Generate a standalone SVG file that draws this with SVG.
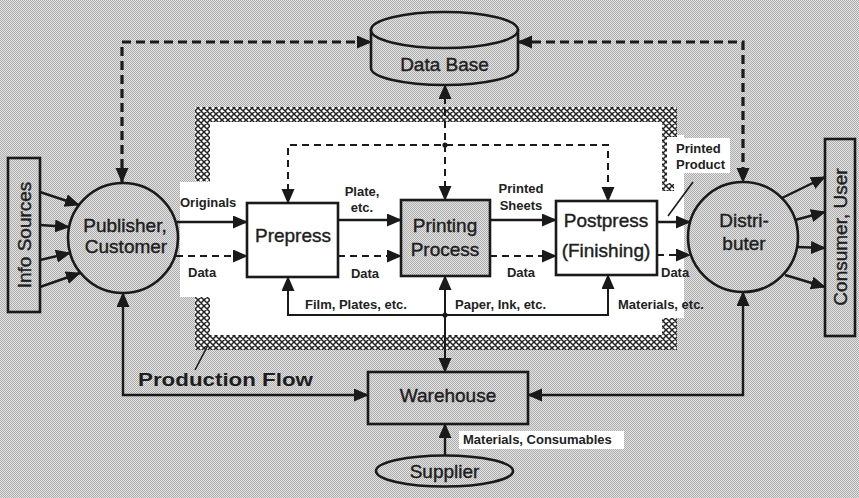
<svg xmlns="http://www.w3.org/2000/svg" width="859" height="498" viewBox="0 0 859 498">
  <defs>
    <!-- halftone grey fill -->
    <pattern id="dots" width="2" height="2" patternUnits="userSpaceOnUse">
      <rect width="2" height="2" fill="#e4e4e4"/>
      <rect width="1" height="1" fill="#acacac"/>
      <rect x="1" y="1" width="1" height="1" fill="#acacac"/>
    </pattern>
    <!-- cross-hatch used for the production-flow border -->
    <pattern id="hatch" width="6" height="6" patternUnits="userSpaceOnUse">
      <rect width="6" height="6" fill="#fff"/>
      <path d="M0,0 L6,6 M6,0 L0,6 M-1,5 L1,7 M5,-1 L7,1 M-1,1 L1,-1 M5,7 L7,5" stroke="#222" stroke-width="1.5"/>
    </pattern>
    <marker id="ah" markerUnits="userSpaceOnUse" markerWidth="16" markerHeight="14" refX="14" refY="6.5" orient="auto-start-reverse">
      <path d="M0,0 L15,6.5 L0,13 Z" fill="#1a1a1a"/>
    </marker>
    <style>
      .lbl { font-family: "Liberation Sans", Arial, sans-serif; font-size: 19px; fill: #1e1e1e; stroke: #1e1e1e; stroke-width: 0.4; text-anchor: middle; }
      .sm { font-family: "Liberation Sans", Arial, sans-serif; font-size: 13px; font-weight: bold; fill: #222; }
      .node { stroke: #1a1a1a; stroke-width: 2.6; }
      .solid { fill: none; stroke: #1a1a1a; stroke-width: 2.4; }
      .thin { fill: none; stroke: #1a1a1a; stroke-width: 2; }
      .dashO { fill: none; stroke: #1a1a1a; stroke-width: 3.2; stroke-dasharray: 9 5; }
      .dashI { fill: none; stroke: #1a1a1a; stroke-width: 2; stroke-dasharray: 7 5; }
      .arr { marker-end: url(#ah); }
      .arr2 { marker-start: url(#ah); marker-end: url(#ah); }
    </style>
  </defs>

  <!-- background -->
  <rect width="859" height="498" fill="url(#dots)"/>

  <!-- production flow area -->
  <g id="production-flow">
    <path d="M210,122 H662 V135 H684 V318 H662 V335 H210 V297 H180 V182 H210 Z" fill="#fff"/>
    <rect x="195" y="107" width="482" height="15" fill="url(#hatch)"/>
    <rect x="195" y="107" width="15" height="74" fill="url(#hatch)"/>
    <rect x="195" y="297" width="15" height="53" fill="url(#hatch)"/>
    <rect x="195" y="335" width="482" height="15" fill="url(#hatch)"/>
    <rect x="662" y="107" width="15" height="30" fill="url(#hatch)"/>
    <rect x="662" y="137" width="5" height="46" fill="url(#hatch)"/>
    <rect x="662" y="183" width="12" height="8" fill="url(#hatch)"/>
    <rect x="662" y="318" width="15" height="32" fill="url(#hatch)"/>
    <text x="138" y="386" font-family="Liberation Sans, Arial, sans-serif" font-size="19" font-weight="bold" fill="#1e1e1e" textLength="175" lengthAdjust="spacingAndGlyphs">Production Flow</text>
    <path d="M195,370 L208,345" stroke="#1a1a1a" stroke-width="1.6" fill="none"/>
  </g>

  <!-- connectors -->
  <g id="connectors">
    <!-- data base links -->
    <path class="dashO arr2" d="M122,182 V42 H371"/>
    <path class="dashO arr2" d="M518,42 H743 V182"/>
    <path class="dashI arr2" d="M288,203 V145 H608 V201"/>
    <path class="dashI arr2" d="M445,85 V200"/>
    <circle cx="445" cy="145" r="2.6" fill="#1a1a1a"/>

    <!-- info sources into publisher -->
    <path class="solid arr" d="M40,192 L79,205"/>
    <path class="solid arr" d="M40,225 L69,227"/>
    <path class="solid arr" d="M40,260 L70,253"/>
    <path class="solid arr" d="M40,287 L80,273"/>

    <!-- main flow -->
    <path class="solid arr" d="M177,222 H247"/>
    <path class="dashI arr" d="M176,256 H247"/>
    <path class="solid arr" d="M338,220 H401"/>
    <path class="dashI arr" d="M338,256 H401"/>
    <path class="solid arr" d="M490,220 H556"/>
    <path class="dashI arr" d="M490,256 H556"/>
    <path class="solid arr" d="M657,222 H690"/>
    <path class="dashI arr" d="M657,255 H690"/>

    <!-- distributer to consumer -->
    <path class="solid arr" d="M782,198 L825,177"/>
    <path class="solid arr" d="M795,220 L825,212"/>
    <path class="solid arr" d="M797,247 L825,248"/>
    <path class="solid arr" d="M785,275 L825,287"/>

    <!-- materials from warehouse -->
    <path class="thin arr2" d="M288,277 V315 H608 V275"/>
    <path class="thin arr2" d="M445,276 V372"/>
    <circle cx="445" cy="315" r="2.6" fill="#1a1a1a"/>

    <path class="solid arr2" d="M123,293 V395 H368"/>
    <path class="solid arr2" d="M528,395 H743 V292"/>
    <path class="solid arr" d="M445,456 V424"/>

    <path d="M693,182 L668,216" stroke="#1a1a1a" stroke-width="1.6" fill="none"/>
  </g>

  <!-- connector labels -->
  <g id="labels">
    <text class="sm" x="180" y="207">Originals</text>
    <text class="sm" x="188" y="277">Data</text>
    <text class="sm" x="362" y="196" text-anchor="middle">Plate,</text>
    <text class="sm" x="362" y="212" text-anchor="middle">etc.</text>
    <text class="sm" x="365" y="278" text-anchor="middle">Data</text>
    <text class="sm" x="521" y="193" text-anchor="middle">Printed</text>
    <text class="sm" x="521" y="210" text-anchor="middle">Sheets</text>
    <text class="sm" x="521" y="277" text-anchor="middle">Data</text>
    <text class="sm" x="661" y="277">Data</text>
    <rect x="673" y="138" width="57" height="35" fill="#fff"/>
    <text class="sm" x="676" y="153">Printed</text>
    <text class="sm" x="676" y="169">Product</text>
    <text class="sm" x="305" y="309">Film, Plates, etc.</text>
    <text class="sm" x="455" y="309">Paper, Ink, etc.</text>
    <text class="sm" x="618" y="309">Materials, etc.</text>
    <rect x="459" y="431" width="165" height="18" fill="#fff"/>
    <text class="sm" x="463" y="444" font-size="14">Materials, Consumables</text>
  </g>

  <g id="database">
    <path class="node" d="M371,30 V68 A73.5,17 0 0 0 518,68 V30 Z" fill="url(#dots)"/>
    <ellipse class="node" cx="444.5" cy="30" rx="73.5" ry="18" fill="url(#dots)"/>
    <text class="lbl" x="444.5" y="71">Data Base</text>
  </g>

  <g id="info-sources">
    <rect class="node" x="8" y="158" width="32" height="154" fill="url(#dots)"/>
    <text class="lbl" x="24" y="242" transform="rotate(-90 24 235)">Info Sources</text>
  </g>

  <g id="publisher">
    <circle class="node" cx="123" cy="238" r="55" fill="url(#dots)"/>
    <text class="lbl" x="125" y="232">Publisher,</text>
    <text class="lbl" x="126" y="253">Customer</text>
  </g>

  <g id="prepress">
    <rect class="node" x="247" y="203" width="91" height="74" fill="#fff"/>
    <text class="lbl" x="293" y="242">Prepress</text>
  </g>

  <g id="printing">
    <rect class="node" x="401" y="200" width="89" height="76" fill="url(#dots)"/>
    <text class="lbl" x="445" y="232">Printing</text>
    <text class="lbl" x="445" y="256">Process</text>
  </g>

  <g id="postpress">
    <rect class="node" x="556" y="201" width="101" height="74" fill="#fff"/>
    <text class="lbl" x="606" y="227">Postpress</text>
    <text class="lbl" x="606" y="257">(Finishing)</text>
  </g>

  <g id="distributer">
    <circle class="node" cx="743" cy="237" r="55" fill="url(#dots)"/>
    <text class="lbl" x="744" y="227">Distri-</text>
    <text class="lbl" x="744" y="250">buter</text>
  </g>

  <g id="consumer">
    <rect class="node" x="825" y="139" width="30" height="197" fill="url(#dots)"/>
    <text class="lbl" x="840" y="244" transform="rotate(-90 840 237)">Consumer, User</text>
  </g>

  <g id="warehouse">
    <rect class="node" x="368" y="372" width="160" height="52" fill="url(#dots)"/>
    <text class="lbl" x="448" y="402">Warehouse</text>
  </g>

  <g id="supplier">
    <ellipse class="node" cx="444.5" cy="471" rx="68.5" ry="15.5" fill="url(#dots)"/>
    <text class="lbl" x="444.5" y="478">Supplier</text>
  </g>
</svg>
